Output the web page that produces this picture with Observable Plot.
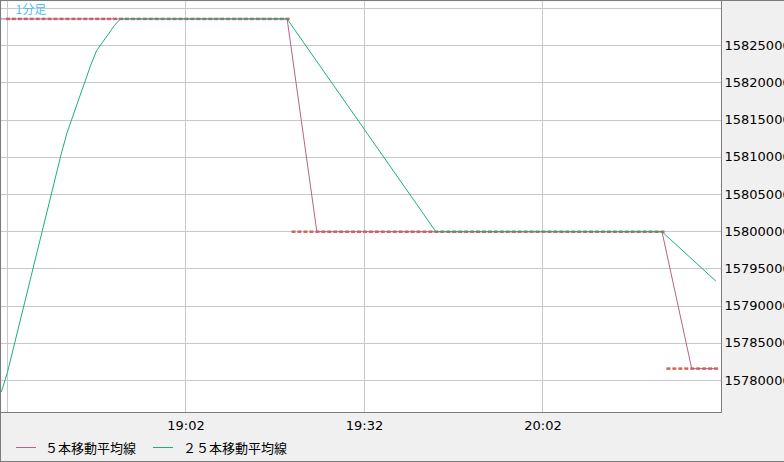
<!DOCTYPE html>
<html>
<head>
<meta charset="utf-8">
<script src="https://cdn.jsdelivr.net/npm/d3@7"></script>
<script src="https://cdn.jsdelivr.net/npm/@observablehq/plot@0.6"></script>
<style>
  html, body { margin: 0; padding: 0; background: #f0f0f0; overflow: hidden; }
  #wrap { position: relative; width: 784px; height: 462px; background: #f0f0f0; overflow: hidden; }
  #chart { position: absolute; left: 0; top: 0; }
  .ln { position: absolute; background: #7c7c7c; }
  .sw { position: absolute; height: 1px; width: 20px; }
  .lt { position: absolute; font-family: "Noto Sans CJK JP", sans-serif; font-size: 13px; line-height: 16px; color: #000; white-space: nowrap; }
</style>
</head>
<body>
<div id="wrap">
  <div id="chart"></div>
  <div class="ln" style="left:721px;top:0;width:1px;height:413px"></div>
  <div class="ln" style="left:0;top:412px;width:722px;height:1px"></div>
  <div class="ln" style="left:0;top:0;width:1px;height:462px"></div>
  <div class="ln" style="left:0;top:0;width:784px;height:1px"></div>
  <div class="ln" style="left:0;top:461px;width:784px;height:1px"></div>
  <div id="legend"></div>
</div>
<script>
// ---- data ----
const xDomain = ["18:31", "20:32"];
const xTickLabels = ["19:02", "19:32", "20:02"];
const xGridTimes = ["18:32", "19:02", "19:32", "20:02"];
const yDomain = [15775700, 15830940];
const yTickValues = [15780000, 15785000, 15790000, 15795000, 15800000, 15805000, 15810000, 15815000, 15820000, 15825000];
const yGridValues = [15780000, 15785000, 15790000, 15795000, 15800000, 15805000, 15810000, 15815000, 15820000, 15825000, 15830000];

// 1-minute candles (flat): runs of constant price
const candleRunStart = ["18:32", "19:20", "20:23"];
const candleRunEnd   = ["19:19", "20:22", "20:31"];
const candleRunPrice = [15828600, 15800000, 15781600];

// 5-bar moving average (vertices)
const ma5Times  = ["18:31", "19:19", "19:24", "20:22", "20:27", "20:31"];
const ma5Values = [15828600, 15828600, 15800000, 15800000, 15781600, 15781600];

// 25-bar moving average
const ma25Times = ["18:31","18:32","18:33","18:34","18:35","18:36","18:37","18:38","18:39","18:40",
                   "18:41","18:42","18:43","18:44","18:45","18:46","18:47","18:48","18:49","18:50",
                   "18:51","19:19","19:44","20:22","20:31"];
const ma25Values = [15778520,15781090,15784340,15787590,15790830,15794090,15797340,15800580,15803830,15807080,
                    15810340,15813270,15815550,15817840,15820110,15822390,15824370,15825480,15826610,15827740,
                    15828600,15828600,15800000,15800000,15793400];

const titleText = "1分足";
const legendNames = ["５本移動平均線", "２５本移動平均線"];
const colors = { candle: "#cf6655", ma5: "#b5638a", ma25: "#1fae78", grid: "#c8c8c8", title: "#4fbff0" };

// ---- build tables ----
const parse = d3.utcParse("%H:%M");
const candles = [];
candleRunStart.forEach((s, i) => {
  const t0 = parse(s), t1 = parse(candleRunEnd[i]);
  for (const t of d3.utcMinute.range(t0, d3.utcMinute.offset(t1, 1))) candles.push({time: t, price: candleRunPrice[i]});
});
const ma5 = ma5Times.map((t, i) => ({time: parse(t), value: ma5Values[i]}));
const ma25 = ma25Times.map((t, i) => ({time: parse(t), value: ma25Values[i]}));

const chart = Plot.plot({
  width: 784,
  height: 436,
  marginLeft: 1,
  marginRight: 63,
  marginTop: 1,
  marginBottom: 24,
  style: { background: "transparent", fontFamily: "DejaVu Sans, sans-serif", fontSize: "13px", color: "#000", overflow: "visible" },
  x: { type: "utc", domain: xDomain.map(parse) },
  y: { domain: yDomain },
  marks: [
    Plot.frame({ fill: "white", stroke: null }),
    Plot.ruleY(yGridValues, { stroke: colors.grid, strokeWidth: 1, shapeRendering: "crispEdges" }),
    Plot.ruleX(xGridTimes.map(parse), { stroke: colors.grid, strokeWidth: 1, shapeRendering: "crispEdges" }),
    Plot.ruleY(candles, {
      y: "price",
      x1: d => new Date(+d.time - 10000),
      x2: d => new Date(+d.time + 30000),
      stroke: colors.candle,
      strokeWidth: 2.5
    }),
    Plot.line(ma5, { x: "time", y: "value", stroke: colors.ma5, strokeWidth: 1 }),
    Plot.line(ma25, { x: "time", y: "value", stroke: colors.ma25, strokeWidth: 1 }),
    Plot.axisX(xTickLabels.map(parse), { anchor: "bottom", tickSize: 0, tickPadding: 8, tickFormat: d3.utcFormat("%H:%M"), label: null, fill: "#000" }),
    Plot.axisY(yTickValues, { anchor: "right", tickSize: 0, tickPadding: 3, tickFormat: d => String(d), label: null, fill: "#000" }),
    Plot.text([titleText], { frameAnchor: "top-left", dx: 14, dy: 4, fill: colors.title, fontSize: 12, fontFamily: "Noto Sans CJK JP, sans-serif" })
  ]
});
document.getElementById("chart").appendChild(chart);

// ---- legend (below the chart) ----
const legend = document.getElementById("legend");
const legendColors = [colors.ma5, colors.ma25];
const swatchX = [16, 153];
const textX = [45, 183];
legendNames.forEach((name, i) => {
  const sw = document.createElement("div");
  sw.className = "sw";
  sw.style.left = swatchX[i] + "px";
  sw.style.top = "447px";
  sw.style.background = legendColors[i];
  legend.appendChild(sw);
  const tx = document.createElement("div");
  tx.className = "lt";
  tx.style.left = textX[i] + "px";
  tx.style.top = "440px";
  tx.textContent = name;
  legend.appendChild(tx);
});
</script>
</body>
</html>
